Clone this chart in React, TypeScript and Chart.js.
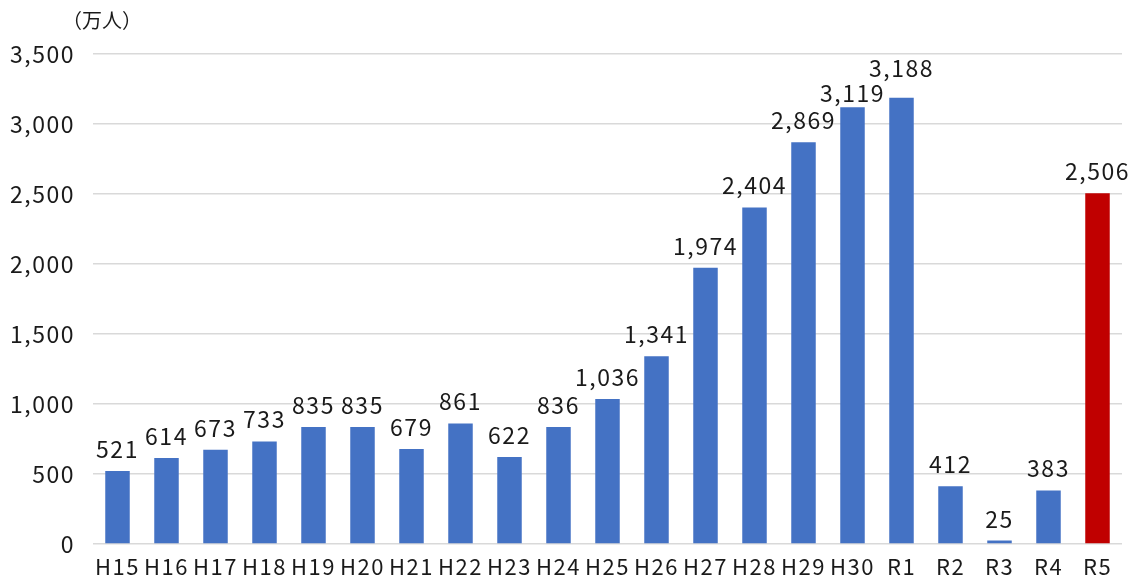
import React, { useEffect, useRef } from "react";
import { Chart, registerables } from "chart.js";

Chart.register(...registerables);

const categories = ["H15","H16","H17","H18","H19","H20","H21","H22","H23","H24","H25","H26","H27","H28","H29","H30","R1","R2","R3","R4","R5"];
const visitors = [521,614,673,733,835,835,679,861,622,836,1036,1341,1974,2404,2869,3119,3188,412,25,383,2506];
const yMin = 0;
const yMax = 3500;
const yStep = 500;
const unitLabel = "（万人）";

const FONT = "'Noto Sans CJK JP', 'Noto Sans', sans-serif";
const TEXT = "#1a1a1a";

const spacingPlugin = {
  id: "spacing",
  beforeDraw(chart: any) {
    chart.ctx.letterSpacing = "1.5px";
  },
};

const labelPlugin = {
  id: "valueLabels",
  afterDatasetsDraw(chart: any) {
    const ctx = chart.ctx;
    const meta = chart.getDatasetMeta(0);
    ctx.save();
    ctx.letterSpacing = "1.5px";
    ctx.font = `23px ${FONT}`;
    ctx.fillStyle = TEXT;
    ctx.textAlign = "center";
    ctx.textBaseline = "alphabetic";
    const labels = meta.data.map((el: any, i: number) => {
      const text = visitors[i].toLocaleString("en-US");
      return { text, x: el.x, y: el.y - 13, w: ctx.measureText(text).width };
    });
    // simple collision avoidance between neighbouring labels
    for (let i = 0; i < labels.length - 1; i++) {
      const a = labels[i];
      const b = labels[i + 1];
      const hOverlap = Math.abs(a.x - b.x) < (a.w + b.w) / 2;
      const d = Math.abs(a.y - b.y);
      if (hOverlap && d < 20) {
        const push = (25 - d) / 2;
        if (a.y > b.y) { a.y += push; b.y -= push; } else { a.y -= push; b.y += push; }
      }
    }
    labels.forEach((l: any) => ctx.fillText(l.text, l.x, l.y));
    ctx.letterSpacing = "0px";
    ctx.font = `20px ${FONT}`;
    ctx.textBaseline = "middle";
    ctx.fillText(unitLabel, 102, 20);
    ctx.restore();
  },
};

export default function App() {
  const ref = useRef<HTMLCanvasElement>(null);
  useEffect(() => {
    const colors = categories.map((c) => (c === "R5" ? "#C00000" : "#4472C4"));
    const chart = new Chart(ref.current!, {
      type: "bar",
      data: {
        labels: categories,
        datasets: [{ data: visitors, backgroundColor: colors, barPercentage: 0.5, categoryPercentage: 1 }],
      },
      options: {
        animation: false,
        responsive: false,
        layout: { padding: { top: 54, right: 14, left: 0, bottom: 0 } },
        plugins: { legend: { display: false }, tooltip: { enabled: false } },
        scales: {
          x: {
            grid: { display: false },
            border: { display: false },
            ticks: { color: TEXT, font: { family: FONT, size: 22 }, padding: 1, maxRotation: 0, autoSkip: false },
            afterFit: (s: any) => { s.height = 34; },
          },
          y: {
            min: yMin,
            max: yMax,
            grid: { color: "#D9D9D9", lineWidth: 1.5, drawTicks: false },
            border: { display: false },
            ticks: {
              stepSize: yStep,
              color: TEXT,
              padding: 18,
              font: { family: FONT, size: 23 },
              callback: (v: any) => Number(v).toLocaleString("en-US"),
            },
            afterFit: (s: any) => { s.width = 93; },
          },
        },
      },
      plugins: [spacingPlugin, labelPlugin],
    });
    return () => chart.destroy();
  }, []);
  return (
    <div style={{ position: "fixed", left: 0, top: 0, width: 1136, height: 578, background: "#fff" }}>
      <canvas ref={ref} width={1136} height={578} />
    </div>
  );
}
